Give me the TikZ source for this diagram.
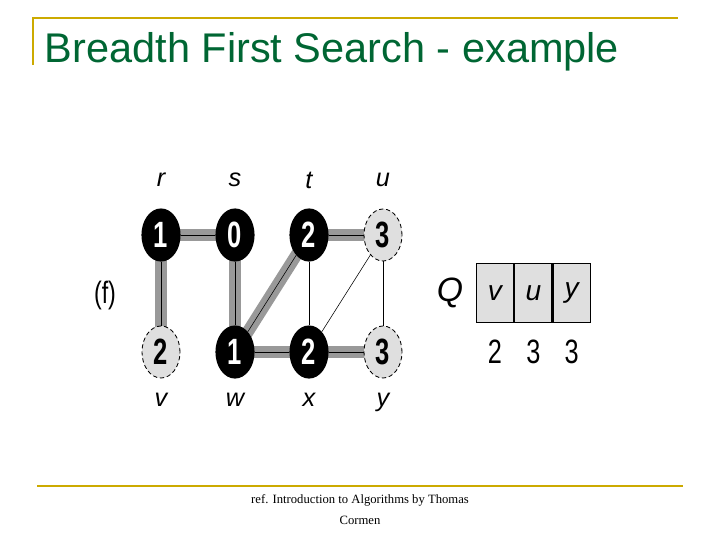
\documentclass[tikz,border=0pt]{standalone}
\usepackage{fontspec}
\setmainfont{Liberation Sans}
\newfontfamily\refser{Liberation Serif}
\usetikzlibrary{shapes.geometric,positioning,backgrounds}
\definecolor{titlegreen}{RGB}{0,102,51}
\definecolor{rulegold}{RGB}{204,170,0}
\newcommand{\dig}[1]{\scalebox{0.7}[1]{\textbf{#1}}}
\begin{document}
\begin{tikzpicture}[x=0.025cm,y=-0.025cm]
  \tikzstyle{vert}=[draw, thick, ellipse, minimum width=0.95cm, minimum height=1.3cm,
    font=\fontsize{26}{26}\selectfont, inner sep=0pt]
  \tikzstyle{blackv}=[vert, fill=black, text=white]
  \tikzstyle{grayv}=[vert, fill=gray!25, densely dashed, semithick]
  \tikzstyle{tree}=[gray!80, line width=0.3cm]
  \tikzstyle{lbl}=[font=\itshape\fontsize{18}{18}\selectfont]
  \tikzstyle{cell}=[draw, thick, fill=gray!25, minimum width=0.93cm, minimum height=1.48cm,
    inner sep=0pt, font=\itshape\fontsize{20}{20}\selectfont]
  \useasboundingbox (0,0) rectangle (720,540);
  % frame rules
  \draw[rulegold, line width=1.5pt] (33,65) -- (33,18) -- (678,18);
  \draw[rulegold, line width=1.5pt] (37,486) -- (683,486);
  \node[anchor=west, text=titlegreen, font=\fontsize{29.5}{29.5}\selectfont] (title)
    at (40,52) {Breadth First Search - example};
  % vertices
  \node[blackv] (r) at (161,235) {\dig{1}};
  \node[blackv] (s) at (235,235) {\dig{0}};
  \node[blackv] (t) at (309,235) {\dig{2}};
  \node[grayv]  (u) at (383,235) {\dig{3}};
  \node[grayv]  (v) at (161,352) {\dig{2}};
  \node[blackv] (w) at (235,352) {\dig{1}};
  \node[blackv] (x) at (309,352) {\dig{2}};
  \node[grayv]  (y) at (383,352) {\dig{3}};
  % edges
  \begin{scope}[on background layer]
  \foreach \a/\b in {r/s,r/v,s/w,w/t,t/u,w/x,x/y}
    \draw[tree] (\a.center) -- (\b.center);
  \foreach \a/\b in {r/s,r/v,s/w,w/t,t/u,w/x,x/y,t/x,y/u}
    \draw (\a) -- (\b);
  \draw[thin] (u) -- (x);
  \end{scope}
  % labels
  \node[lbl] (lr) at (161,180) {r};
  \node[lbl] (ls) at (235,180) {s};
  \node[lbl] (lt) at (309,180) {t};
  \node[lbl] (lu) at (383,180) {u};
  \node[lbl] (lv) at (161,400) {v};
  \node[lbl] (lw) at (235,400) {w};
  \node[lbl] (lx) at (309,400) {x};
  \node[lbl] (ly) at (383,402) {y};
  \node[font=\fontsize{22}{22}\selectfont] (f) at (105,295) {\scalebox{0.75}[1]{(f)}};
  \node[lbl, font=\itshape\fontsize{24}{24}\selectfont] (Q) at (450,293) {Q};
  % queue
  \node[cell] (q1) at (495,293) {v};
  \node[cell, right=0pt of q1] (q2) {u};
  \node[cell, right=0pt of q2] (q3) {y};
  \node[below=0.3cm of q1, font=\fontsize{24}{24}\selectfont] (d1) {\scalebox{0.75}[1]{2}};
  \node[below=0.3cm of q2, font=\fontsize{24}{24}\selectfont] (d2) {\scalebox{0.75}[1]{3}};
  \node[below=0.3cm of q3, font=\fontsize{24}{24}\selectfont] (d3) {\scalebox{0.75}[1]{3}};
  % footer
  \node[align=center, font=\refser\fontsize{9}{15}\selectfont] (ref) at (360,510)
    {ref. Introduction to Algorithms by Thomas\\Cormen};
\end{tikzpicture}
\end{document}
